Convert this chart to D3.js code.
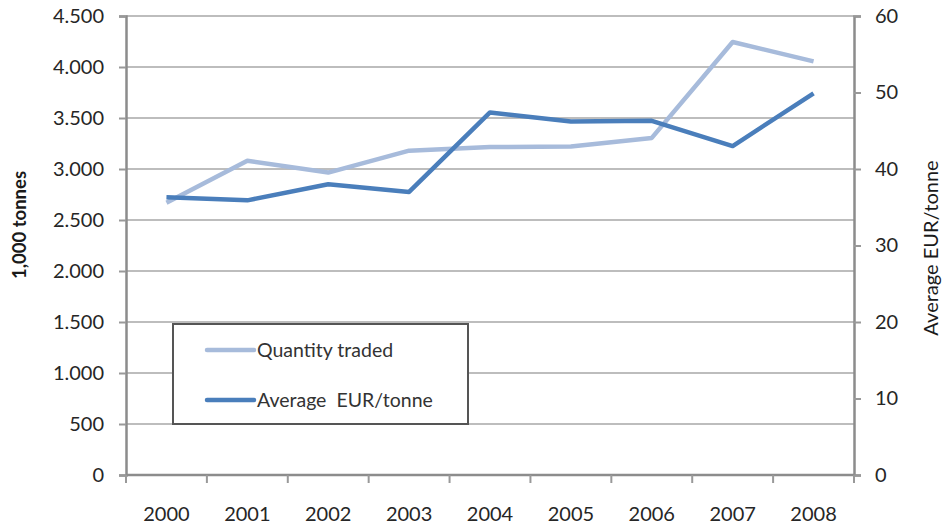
<!DOCTYPE html>
<html><head><meta charset="utf-8">
<script src="https://cdn.jsdelivr.net/npm/d3@7"></script>
<style>body{margin:0;background:#fff}svg{display:block}text{font-family:Lato,"Open Sans",sans-serif}</style>
</head><body><svg id="c" width="945" height="527"></svg>
<script>
const years = ["2000","2001","2002","2003","2004","2005","2006","2007","2008"];
const quantityTraded = [2670, 3080, 2965, 3180, 3215, 3220, 3305, 4245, 4055];
const avgEurTonne = [36.3, 35.9, 38.0, 37.0, 47.4, 46.2, 46.3, 43.0, 49.9];
const leftTicks = [0,500,1000,1500,2000,2500,3000,3500,4000,4500];
const rightTicks = [0,10,20,30,40,50,60];
const seriesNames = ["Quantity traded", "Average  EUR/tonne"];

const svg = d3.select("#c");
const L = 126, R = 854, T = 16, B = 475;
const x = d3.scaleBand().domain(years).range([L, R]);
const yL = d3.scaleLinear().domain([0, 4500]).range([B, T]);
const yR = d3.scaleLinear().domain([0, 60]).range([B, T]);
const fmt = d => d3.format(",")(d).replace(/,/g, ".");
const colQ = "#a7bbdb", colA = "#4a7ebb";

// gridlines
svg.append("g").selectAll("line").data(leftTicks.slice(1)).join("line")
  .attr("x1", L).attr("x2", R).attr("y1", d => yL(d)).attr("y2", d => yL(d))
  .attr("stroke", "#bdbdbd").attr("stroke-width", 2);

// left axis
const gL = svg.append("g").attr("transform", `translate(${L},0)`)
  .call(d3.axisLeft(yL).tickValues(leftTicks).tickFormat(fmt).tickSize(7).tickPadding(15));
// right axis
const gR = svg.append("g").attr("transform", `translate(${R},0)`)
  .call(d3.axisRight(yR).tickValues(rightTicks).tickSize(7).tickPadding(14));
// bottom axis
const gB = svg.append("g").attr("transform", `translate(0,${B})`)
  .call(d3.axisBottom(x).tickSize(0).tickPadding(32));
svg.append("g").selectAll("line").data(d3.range(years.length + 1)).join("line")
  .attr("x1", i => L + i * x.step()).attr("x2", i => L + i * x.step())
  .attr("y1", B).attr("y2", B + 8).attr("stroke", "#999").attr("stroke-width", 2);

[gL, gR, gB].forEach(g => {
  g.select(".domain").attr("stroke", "#8c8c8c").attr("stroke-width", 2.5);
  g.selectAll(".tick line").attr("stroke", "#999").attr("stroke-width", 2);
  g.selectAll("text").attr("font-size", 20).attr("fill", "#262626");
});
gB.select(".domain").attr("d", `M${L},0H${R}`);

// lines
const lineQ = d3.line().x((d, i) => x(years[i]) + x.bandwidth() / 2).y(d => yL(d));
const lineA = d3.line().x((d, i) => x(years[i]) + x.bandwidth() / 2).y(d => yR(d));
svg.append("path").attr("d", lineQ(quantityTraded)).attr("fill", "none")
  .attr("stroke", colQ).attr("stroke-width", 4.5).attr("stroke-linejoin", "round");
svg.append("path").attr("d", lineA(avgEurTonne)).attr("fill", "none")
  .attr("stroke", colA).attr("stroke-width", 4.5).attr("stroke-linejoin", "round");

// axis titles
svg.append("text").attr("transform", "translate(26,225) rotate(-90)")
  .attr("text-anchor", "middle").attr("font-size", 18.5).attr("font-weight", "bold")
  .attr("fill", "#1a1a1a").text("1,000 tonnes");
svg.append("text").attr("transform", "translate(938,248) rotate(-90)")
  .attr("text-anchor", "middle").attr("font-size", 20)
  .attr("fill", "#1a1a1a").text("Average EUR/tonne");

// legend
const lg = svg.append("g");
lg.append("rect").attr("x", 173).attr("y", 324).attr("width", 295).attr("height", 100)
  .attr("fill", "#fff").attr("stroke", "#555").attr("stroke-width", 2);
[colQ, colA].forEach((c, i) => {
  const yy = 350 + i * 50;
  lg.append("line").attr("x1", 207).attr("x2", 254).attr("y1", yy).attr("y2", yy)
    .attr("stroke", c).attr("stroke-width", 4.5).attr("stroke-linecap", "round");
  lg.append("text").attr("x", 257).attr("y", yy).attr("dy", "0.35em")
    .attr("font-size", 19.5).attr("fill", "#333").style("white-space", "pre")
    .text(seriesNames[i]);
});
</script></body></html>
